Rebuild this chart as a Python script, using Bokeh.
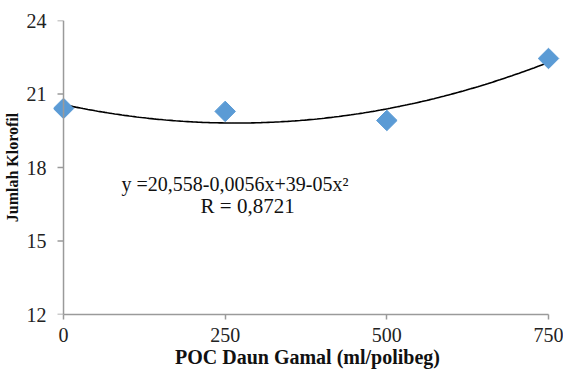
import numpy as np
from bokeh.plotting import figure
from bokeh.models import Range1d, Label, FixedTicker, Span
from bokeh.embed import file_html
from bokeh.resources import INLINE

# ---- data ----
doses = [0, 250, 500, 750]
chlorophyll = [20.41, 20.29, 19.92, 22.45]
x_ticks = [0, 250, 500, 750]
y_ticks = [12, 15, 18, 21, 24]
x_title = "POC Daun Gamal (ml/polibeg)"
y_title = "Jumlah Klorofil"
equation_text = "y =20,558-0,0056x+39-05x²"
r_text = "R = 0,8721"

# quadratic trend fitted to the points
coef = np.polyfit(doses, chlorophyll, 2)
xs = np.linspace(min(doses), max(doses), 200)
ys = np.polyval(coef, xs)

SERIF = "Liberation Serif"
AXIS_COL = "#9a9a9a"
TXT_COL = "#222222"

# layout
FRAME_W = 508
X_START, X_END = -15.5, 770.1
PX_PER_UNIT = FRAME_W / (X_END - X_START)
TICK_LEN = 6

p = figure(width=563, height=372, output_backend="svg", toolbar_location=None,
           x_range=Range1d(X_START, X_END), y_range=Range1d(12, 24),
           min_border_left=53, min_border_right=2, min_border_top=20,
           min_border_bottom=58)
p.outline_line_color = None
p.grid.grid_line_color = None
p.background_fill_color = "white"

for ax in (p.xaxis[0], p.yaxis[0]):
    ax.axis_line_color = AXIS_COL
    ax.axis_line_width = 1.5
    ax.major_tick_line_color = AXIS_COL
    ax.major_tick_line_width = 1.5
    ax.major_tick_in = 0
    ax.major_tick_out = 5
    ax.minor_tick_line_color = None
    ax.major_label_text_font = SERIF
    ax.major_label_text_font_size = "20px"
    ax.major_label_text_color = TXT_COL
    ax.axis_label_text_font = SERIF
    ax.axis_label_text_font_style = "bold"
    ax.axis_label_text_color = "#111111"

p.xaxis.ticker = FixedTicker(ticks=x_ticks)
p.yaxis.ticker = FixedTicker(ticks=y_ticks)
p.xaxis.bounds = (0, 750)
p.xaxis.axis_label = x_title
p.yaxis.axis_label = y_title
p.xaxis.axis_label_text_font_size = "20px"
p.yaxis.axis_label_text_font_size = "16px"
p.xaxis.major_label_standoff = 8
p.xaxis.axis_label_standoff = 1

# y axis drawn at x = 0 (frame extends a little left so markers are not clipped)
p.yaxis.axis_line_color = None
p.yaxis.major_tick_line_color = None
p.yaxis.major_tick_out = 0
p.yaxis.major_label_standoff = 7
p.yaxis.axis_label_standoff = 3
p.add_layout(Span(location=0, dimension="height", line_color=AXIS_COL, line_width=1.5))
p.segment(x0=[0] * len(y_ticks), y0=y_ticks,
          x1=[-TICK_LEN / PX_PER_UNIT] * len(y_ticks), y1=y_ticks,
          line_color=AXIS_COL, line_width=1.5)

p.line(xs, ys, line_color="black", line_width=1.6)
p.scatter(doses, chlorophyll, marker="square", size=14.5, angle=np.pi / 4,
          fill_color="#5B9BD5", line_color="#5B9BD5")

p.add_layout(Label(x=89.7, y=17.33, text=equation_text, text_font=SERIF,
                   text_font_size="20px", text_baseline="middle", text_color="#111111"))
p.add_layout(Label(x=211.9, y=16.43, text=r_text, text_font=SERIF,
                   text_font_size="21px", text_baseline="middle", text_color="#111111"))

open("out.html", "w").write(file_html(p, INLINE))
